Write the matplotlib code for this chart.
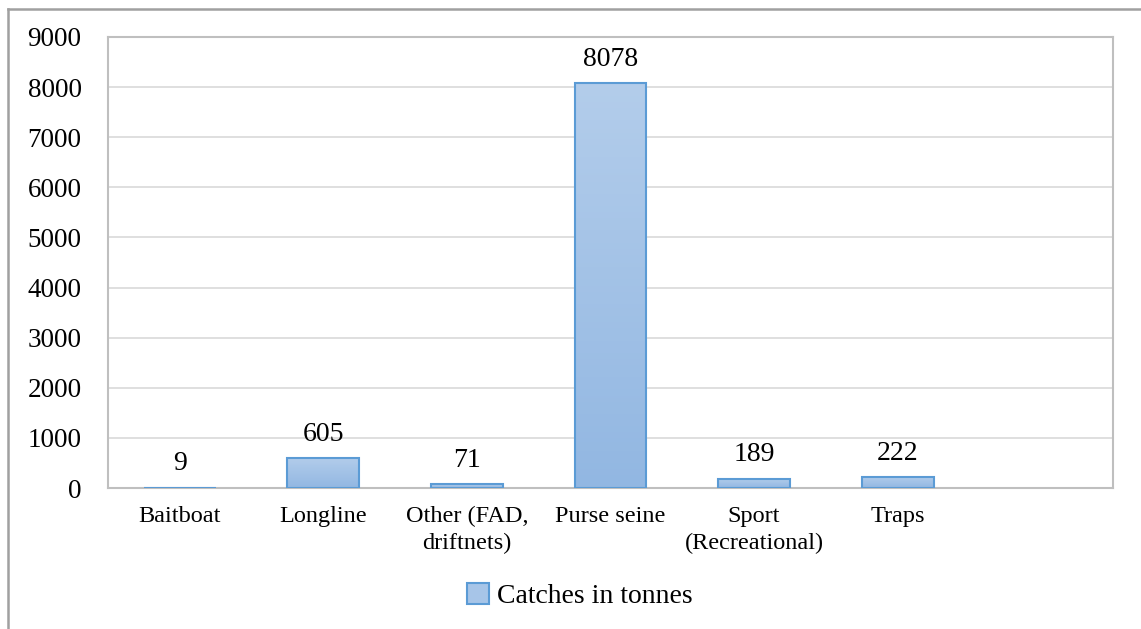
import numpy as np
import matplotlib
matplotlib.use("Agg")
import matplotlib.pyplot as plt
from matplotlib.patches import Rectangle
from matplotlib.lines import Line2D
from matplotlib.colors import LinearSegmentedColormap

categories = ["Baitboat", "Longline", "Other (FAD,\ndriftnets)", "Purse seine",
              "Sport\n(Recreational)", "Traps"]
values = [9, 605, 71, 8078, 189, 222]
n_slots = 7
yticks = list(range(0, 9001, 1000))
series_name = "Catches in tonnes"

plt.rcParams['font.family'] = ['Liberation Serif', 'DejaVu Serif']

fig = plt.figure(figsize=(11.41, 6.29), dpi=100)
ax = fig.add_axes([108/1141, 1-488/629, (1113-108)/1141, (488-37)/629])

top_c = "#b3cdeb"
bot_c = "#92b7e2"
edge_c = "#5b9bd5"
cmap = LinearSegmentedColormap.from_list("g", [bot_c, top_c])
grad = np.linspace(0, 1, 256).reshape(-1, 1)

width = 0.5
x = np.arange(len(categories))
bars = ax.bar(x, values, width=width, color="none", edgecolor=edge_c, linewidth=1.5, zorder=3)
for b in bars:
    x0, w, h = b.get_x(), b.get_width(), b.get_height()
    im = ax.imshow(grad, cmap=cmap, aspect='auto', origin='lower',
                   extent=[x0, x0 + w, 0, h], zorder=2, interpolation='bicubic')
    clip = Rectangle((x0, 0), w, h, transform=ax.transData)
    im.set_clip_path(clip)

for xi, v in zip(x, values):
    ax.annotate(str(v), (xi, v), xytext=(0, 8), textcoords="offset points",
                ha="center", va="bottom", fontsize=20, color="#000000")

ax.set_xlim(-0.5, n_slots - 0.5)
ax.set_ylim(0, 9000)
ax.set_yticks(yticks)
ax.set_yticklabels([str(t) for t in yticks], fontsize=19.5)
ax.set_xticks(x)
ax.set_xticklabels(categories, fontsize=17.5, linespacing=1.35)
ax.tick_params(axis='both', length=0)
ax.tick_params(axis='y', pad=19)
ax.tick_params(axis='x', pad=13)
ax.grid(axis='y', color="#d9d9d9", linewidth=1.2, zorder=0)
ax.set_axisbelow(True)
for s in ax.spines.values():
    s.set_color("#bfbfbf")
    s.set_linewidth(1.5)

handle = Rectangle((0, 0), 1, 1, facecolor="#a7c5e8", edgecolor=edge_c, linewidth=1.5)
fig.legend([handle], [series_name], loc="center", bbox_to_anchor=(580/1141, 1-596/629),
           frameon=False, fontsize=20, handlelength=0.8, handleheight=0.8,
           handletextpad=0.3)

# outer frame lines
fig.add_artist(Line2D([8/1141, 8/1141], [0, 1-9/629], transform=fig.transFigure,
                      color="#a0a0a0", linewidth=1.8))
fig.add_artist(Line2D([8/1141, 1], [1-9/629, 1-9/629], transform=fig.transFigure,
                      color="#a0a0a0", linewidth=1.8))

fig.savefig("out.png", dpi=100)
